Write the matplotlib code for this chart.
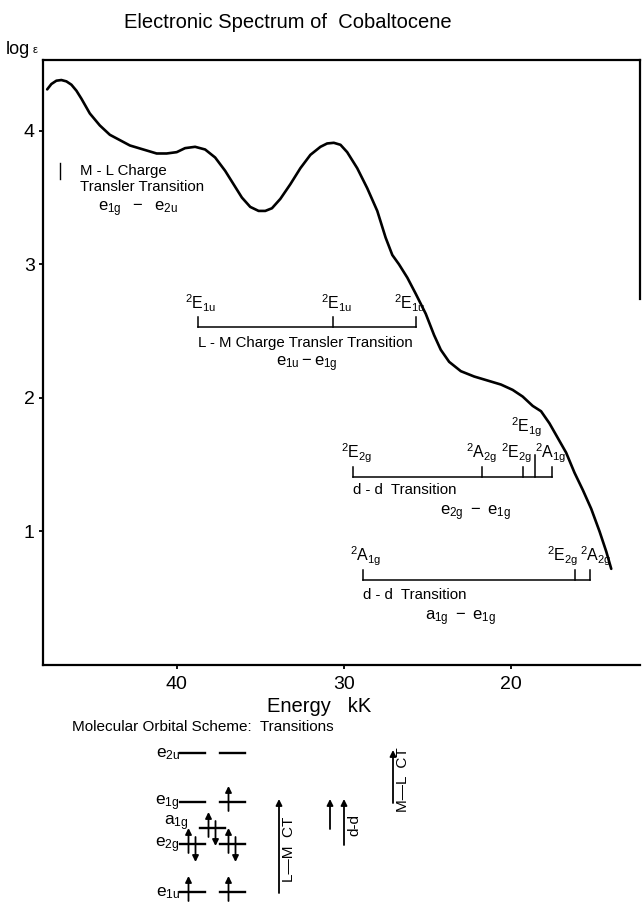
import numpy as np
import matplotlib.pyplot as plt

plt.rcParams['font.family'] = ['Liberation Sans', 'DejaVu Sans']
plt.rcParams['mathtext.fontset'] = 'custom'
plt.rcParams['mathtext.rm'] = 'Liberation Sans'
plt.rcParams['mathtext.it'] = 'Liberation Sans'

# absorption spectrum: energy (kK) vs log eps
energy = [47.75, 47.5, 47.2, 46.9, 46.6, 46.3, 46.0, 45.7, 45.2, 44.6, 44.0, 43.4,
          42.8, 42.0, 41.2, 40.6, 40.0, 39.5, 38.9, 38.3, 37.7, 37.1, 36.6, 36.1,
          35.6, 35.1, 34.7, 34.3, 33.8, 33.2, 32.6, 32.0, 31.4, 31.0, 30.6, 30.2,
          29.8, 29.2, 28.6, 28.0, 27.5, 27.1, 26.7, 26.2, 25.7, 25.1, 24.6, 24.2,
          23.7, 23.0, 22.2, 21.4, 20.6, 19.9, 19.3, 18.7, 18.2, 17.7, 17.2, 16.7,
          16.2, 15.7, 15.2, 14.7, 14.3, 14.0]
log_eps = [4.31, 4.35, 4.375, 4.38, 4.37, 4.345, 4.30, 4.24, 4.13, 4.04, 3.97, 3.93,
           3.89, 3.86, 3.83, 3.83, 3.84, 3.87, 3.88, 3.86, 3.80, 3.70, 3.60, 3.50,
           3.43, 3.40, 3.40, 3.42, 3.49, 3.60, 3.72, 3.82, 3.88, 3.905, 3.91, 3.895,
           3.84, 3.72, 3.57, 3.40, 3.20, 3.07, 3.00, 2.90, 2.78, 2.63, 2.47, 2.36,
           2.27, 2.20, 2.16, 2.13, 2.10, 2.06, 2.01, 1.94, 1.90, 1.81, 1.70, 1.59,
           1.44, 1.31, 1.17, 1.00, 0.85, 0.72]

# band assignments (kK)
lm_energy = [38.7, 30.65, 25.7]
lm_terms = ['E_{1u}', 'E_{1u}', 'E_{1u}']
dd1_energy = [29.45, 21.75, 19.3, 18.55, 17.55]
dd1_terms = ['E_{2g}', 'A_{2g}', 'E_{2g}', 'E_{1g}', 'A_{1g}']
dd2_energy = [28.85, 16.15, 15.25]
dd2_terms = ['A_{1g}', 'E_{2g}', 'A_{2g}']

# MO scheme: level names, heights, electrons per orbital
mo_names = ['e_{2u}', 'e_{1g}', 'a_{1g}', 'e_{2g}', 'e_{1u}']
mo_height = [152, 103, 77, 61, 13]
mo_electrons = [[0, 0], [0, 1], [2], [2, 2], [2, 2]]
# transitions: label, from level, to level, x position
tr_labels = ['L\u2014M  CT', '', 'd-d', 'M\u2014L  CT']
tr_from = [4, 2, 3, 1]
tr_to = [1, 1, 1, 0]
tr_x = [279, 330, 344, 393]

fig = plt.figure(figsize=(6.42, 9.05), dpi=100)
ax = fig.add_axes([43 / 642, 1 - 665 / 905, 597 / 642, 605 / 905])
ax.plot(energy, log_eps, color='k', lw=1.9, solid_capstyle='round', solid_joinstyle='round')
ax.set_xlim(48.0, 12.28)
ax.set_ylim(0, 4.53)
ax.set_xticks([40, 30, 20])
ax.set_yticks([1, 2, 3, 4])
ax.tick_params(direction='out', length=3, width=1.3, labelsize=14)
ax.tick_params(axis='x', pad=5)
ax.tick_params(axis='y', pad=3)
for s in ax.spines.values():
    s.set_linewidth(1.6)
ax.spines['right'].set_bounds(2.74, 4.53)


def term_bar(xs, terms, y, dx, tall=None):
    ax.plot([xs[0], xs[-1]], [y, y], color='k', lw=1.1)
    for i, (x, t) in enumerate(zip(xs, terms)):
        h = 0.17 if i == tall else 0.075
        ax.plot([x, x], [y, y + h], color='k', lw=1.1)
        ax.annotate(r'$\mathregular{^2' + t + '}$', (x, y + h),
                    xytext=(dx[i], 11 if i == tall else 1.5),
                    textcoords='offset points', ha='center', va='bottom',
                    fontsize=11.5)


term_bar(lm_energy, lm_terms, 2.534, [2, 3, -4])
term_bar(dd1_energy, dd1_terms, 1.406, [3, 0, -4, -6, -1], tall=3)
term_bar(dd2_energy, dd2_terms, 0.639, [2, -9, 4])

fs = 10.8
fsub = 12
ax.plot([47.0, 47.0], [3.64, 3.76], color='k', lw=1.0)
ax.text(45.8, 3.70, 'M - L Charge', fontsize=fs, va='center')
ax.text(45.8, 3.58, 'Transler Transition', fontsize=fs, va='center')
ax.text(44.7, 3.41, r'$\mathregular{e_{1g}\ \ -\ \ e_{2u}}$', fontsize=fsub, va='center')
ax.text(lm_energy[0], 2.41, 'L - M Charge Transler Transition', fontsize=fs, va='center')
ax.text(32.2, 2.25, r'$\mathregular{e_{1u}-e_{1g}}$', fontsize=fsub, va='center', ha='center')
ax.text(dd1_energy[0], 1.31, 'd - d  Transition', fontsize=fs, va='center')
ax.text(22.1, 1.14, r'$\mathregular{e_{2g}\ -\ e_{1g}}$', fontsize=fsub, va='center', ha='center')
ax.text(dd2_energy[0], 0.526, 'd - d  Transition', fontsize=fs, va='center')
ax.text(23.05, 0.35, r'$\mathregular{a_{1g}\ -\ e_{1g}}$', fontsize=fsub, va='center', ha='center')

fig.text(288 / 642, 1 - 23 / 905, 'Electronic Spectrum of  Cobaltocene',
         ha='center', va='center', fontsize=14.5)
fig.text(6 / 642, 1 - 49 / 905, 'log', ha='left', va='center', fontsize=13)
fig.text(33 / 642, 1 - 50 / 905, '\u03b5', ha='left', va='center', fontsize=8)
fig.text(319 / 642, 1 - 706 / 905, 'Energy   kK', ha='center', va='center', fontsize=14.5)

# molecular orbital scheme
sch = fig.add_axes([0, 0, 1, 205 / 905])
sch.set_xlim(0, 642)
sch.set_ylim(0, 205)
sch.axis('off')
sch.text(72, 178, 'Molecular Orbital Scheme:  Transitions', fontsize=11, va='center')


def spin(x, y0, y1):
    sch.annotate('', xy=(x, y1), xytext=(x, y0),
                 arrowprops=dict(arrowstyle='-|>', color='k', lw=1.3,
                                 mutation_scale=9, shrinkA=0, shrinkB=0))


for name, h, occ in zip(mo_names, mo_height, mo_electrons):
    cols = [212.5] if len(occ) == 1 else [192.5, 232.5]
    for c, n in zip(cols, occ):
        sch.plot([c - 12.5, c + 12.5], [h, h], color='k', lw=1.7)
        if n >= 1:
            spin(c - 4, h - 9, h + 16)
        if n == 2:
            spin(c + 3, h + 7, h - 18)
    if len(occ) == 1:
        sch.text(189, h + 5, r'$\mathregular{' + name + '}$', fontsize=12.5, ha='right', va='center')
    else:
        sch.text(180, h - 1, r'$\mathregular{' + name + '}$', fontsize=12.5, ha='right', va='center')

for lab, i0, i1, x in zip(tr_labels, tr_from, tr_to, tr_x):
    y0 = mo_height[i0] - 1
    y1 = mo_height[i1] + 3
    spin(x, y0, y1)
    if lab:
        sch.text(x + 10, (y0 + y1) / 2 - 3, lab, rotation=90, fontsize=11,
                 ha='center', va='center')

fig.savefig('out.png', dpi=100)
